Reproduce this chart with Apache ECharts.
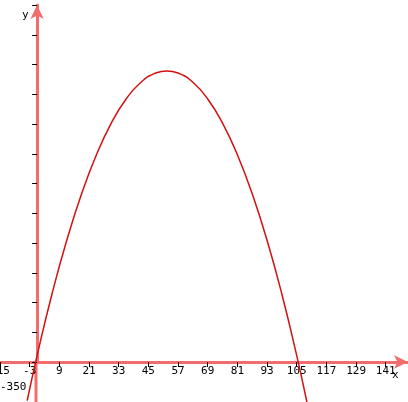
<!DOCTYPE html>
<html><head><meta charset="utf-8">
<script src="https://cdn.jsdelivr.net/npm/echarts@6/dist/echarts.min.js"></script>
<style>html,body{margin:0;padding:0;background:#fff}#c{width:408px;height:402px}</style>
</head><body><div id="c"></div>
<script>
const xs = [-4, 0, 6, 12, 18, 24, 30, 36, 42, 48, 52.5, 57, 63, 69, 75, 81, 87, 93, 99, 105, 108, 110];
const ys = [-436, 0, 594, 1116, 1566, 1944, 2250, 2484, 2646, 2736, 2756, 2736, 2646, 2484, 2250, 1944, 1566, 1116, 594, 0, -324, -550];
const xMin = -15, xMax = 150, xStep = 12;
const yMin = -62, yMax = 3394, yStep = 288;
const extraYLabel = '-350';

const axisColor = '#f26c6c';
const chart = echarts.init(document.getElementById('c'));
chart.setOption({
  animation: false,
  grid: {left: 0, right: 0, top: 5, bottom: 40, containLabel: false, outerBoundsMode: 'none'},
  xAxis: {
    type: 'value', min: xMin, max: xMax, interval: xStep,
    axisLine: {onZero: false, lineStyle: {color: axisColor, width: 3}, symbol: ['none', 'arrow'], symbolSize: [10, 14]},
    axisTick: {inside: false, length: 5, lineStyle: {color: '#000'}},
    axisLabel: {color: '#000', fontFamily: 'DejaVu Sans Mono', fontSize: 11, margin: 4, showMaxLabel: false, showMinLabel: true,
      formatter: v => String(v)},
    splitLine: {show: false}
  },
  yAxis: {
    type: 'value', min: yMin, max: yMax, interval: yStep,
    axisLine: {onZero: true, lineStyle: {color: axisColor, width: 3}, symbol: ['none', 'arrow'], symbolSize: [10, 14]},
    axisTick: {inside: false, length: 5, lineStyle: {color: '#000'}},
    axisLabel: {color: '#000', fontFamily: 'DejaVu Sans Mono', fontSize: 11, margin: 2, formatter: v => String(v)},
    splitLine: {show: false}
  },
  graphic: [
    {type: 'line', shape: {x1: 36, y1: 362, x2: 36, y2: 402}, style: {stroke: axisColor, lineWidth: 3}},
    {type: 'text', left: 0, top: 382, style: {text: extraYLabel, fill: '#000', font: '11px DejaVu Sans Mono'}},
    {type: 'text', left: 22, top: 10, style: {text: 'y', fill: '#000', font: '11px DejaVu Sans Mono'}},
    {type: 'text', left: 392, top: 370, style: {text: 'x', fill: '#000', font: '11px DejaVu Sans Mono'}}
  ],
  series: [{
    type: 'line', smooth: true, showSymbol: false, clip: false,
    data: xs.map((x, i) => [x, ys[i]]),
    lineStyle: {color: '#d41010', width: 1.5}
  }]
});
</script></body></html>
